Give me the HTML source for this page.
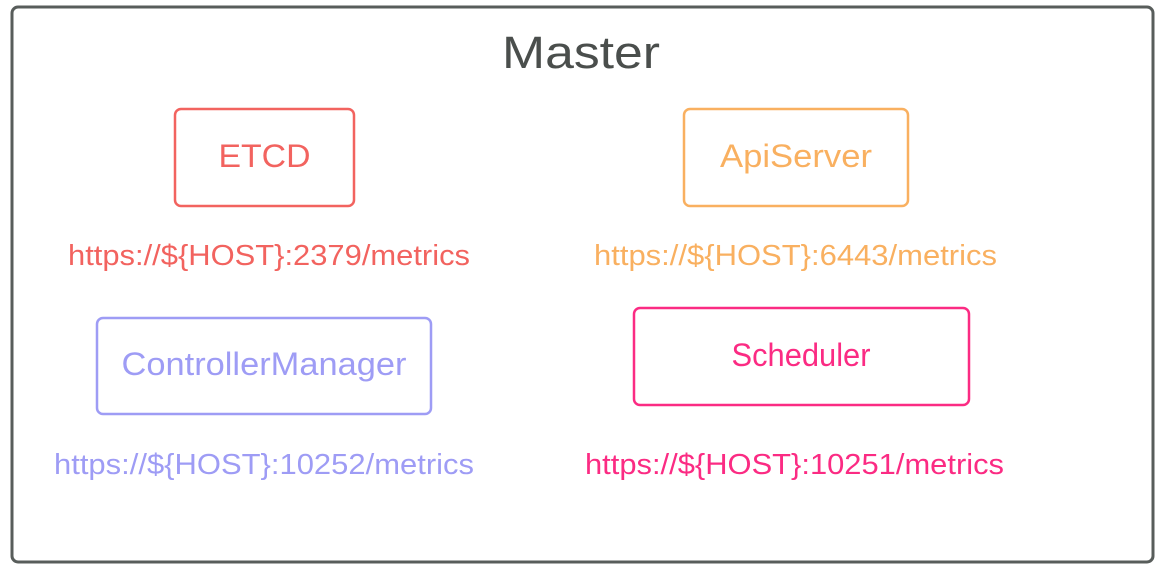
<!DOCTYPE html>
<html><head><meta charset="utf-8"><style>
html,body{margin:0;padding:0;background:#fff;width:1159px;height:570px;overflow:hidden}
svg{display:block}
text{font-family:"Liberation Sans",Arial,sans-serif}
</style></head><body>
<svg width="1159" height="570" viewBox="0 0 1159 570">
<rect x="12" y="7" width="1141" height="555" rx="6" fill="#fff" stroke="#585d5b" stroke-width="3"/>
<text x="581" y="68" font-size="45" fill="#4a4e4c" text-anchor="middle" textLength="158" lengthAdjust="spacingAndGlyphs">Master</text>

<rect x="175" y="109" width="179" height="97" rx="6" fill="none" stroke="#f2635f" stroke-width="2.5"/>
<text x="264.5" y="167" font-size="32" fill="#f2635f" text-anchor="middle" textLength="92" lengthAdjust="spacingAndGlyphs">ETCD</text>
<text x="269" y="265" font-size="28.5" fill="#f2635f" text-anchor="middle" textLength="402" lengthAdjust="spacingAndGlyphs">https://${HOST}:2379/metrics</text>

<rect x="684" y="109" width="224" height="97" rx="6" fill="none" stroke="#f9b060" stroke-width="2.5"/>
<text x="796" y="167" font-size="32" fill="#f9b060" text-anchor="middle" textLength="152" lengthAdjust="spacingAndGlyphs">ApiServer</text>
<text x="795.5" y="265" font-size="28.5" fill="#f9b060" text-anchor="middle" textLength="403" lengthAdjust="spacingAndGlyphs">https://${HOST}:6443/metrics</text>

<rect x="97" y="318" width="334" height="96" rx="6" fill="none" stroke="#9e9cf5" stroke-width="2.5"/>
<text x="264" y="375" font-size="32" fill="#9e9cf5" text-anchor="middle" textLength="285" lengthAdjust="spacingAndGlyphs">ControllerManager</text>
<text x="264" y="474" font-size="28.5" fill="#9e9cf5" text-anchor="middle" textLength="420" lengthAdjust="spacingAndGlyphs">https://${HOST}:10252/metrics</text>

<rect x="634" y="308" width="335" height="97" rx="6" fill="none" stroke="#fb2b83" stroke-width="2.5"/>
<text x="801" y="366" font-size="32" fill="#fb2b83" text-anchor="middle" textLength="139" lengthAdjust="spacingAndGlyphs">Scheduler</text>
<text x="794.5" y="474" font-size="28.5" fill="#fb2b83" text-anchor="middle" textLength="419" lengthAdjust="spacingAndGlyphs">https://${HOST}:10251/metrics</text>
</svg>
</body></html>
